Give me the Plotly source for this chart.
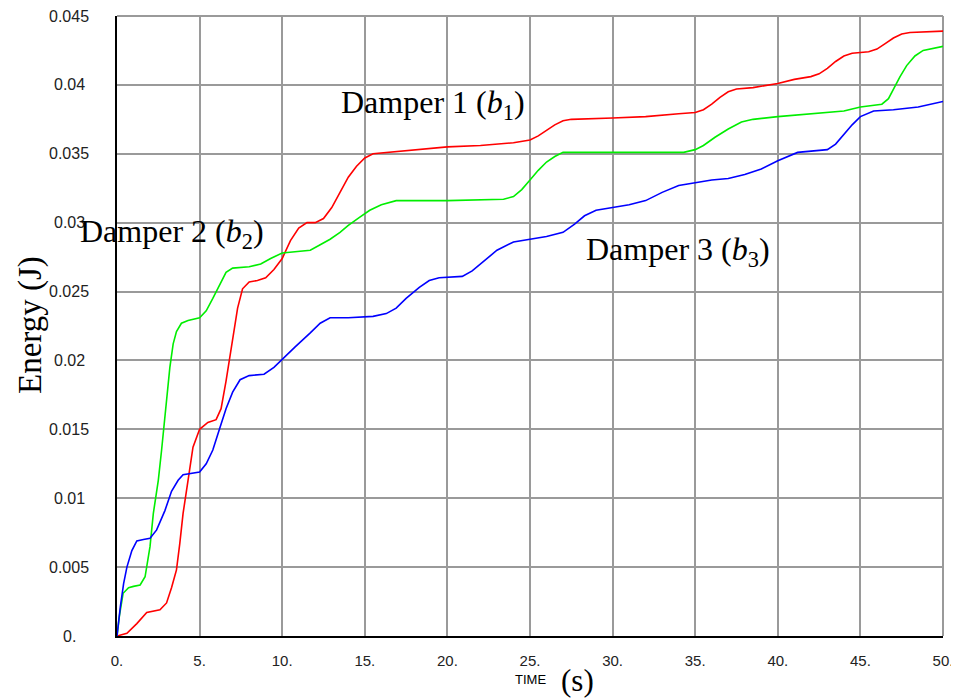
import plotly.graph_objects as go

# ---- data ----
t_red = [0, 0.6, 1.2, 1.8, 2.6, 3.0, 3.3, 3.6, 3.8, 4.0, 4.3, 4.6, 5.0, 5.5, 6.0, 6.3, 6.6, 7.0, 7.3,
         7.6, 8.0, 8.5, 9.0, 9.5, 10.0, 10.5, 11.0, 11.5, 12.0, 12.5, 13.0, 13.5, 14.0, 14.5, 15.0,
         15.5, 16.5, 18.0, 20.0, 22.0, 24.0, 25.0, 25.5, 26.0, 26.5, 27.0, 27.5, 30.0, 32.0, 34.0,
         35.0, 35.5, 36.0, 36.5, 37.0, 37.5, 38.5, 40.0, 41.0, 42.0, 42.5, 43.0, 43.5, 44.0, 44.5,
         45.5, 46.0, 46.5, 47.0, 47.5, 48.0, 50.0]
e_red = [0, 0.0002, 0.0009, 0.0017, 0.0019, 0.0024, 0.0035, 0.0048, 0.0067, 0.0089, 0.0113, 0.0137,
         0.0150, 0.0155, 0.0157, 0.0165, 0.0185, 0.0215, 0.0238, 0.0252, 0.0257, 0.0258, 0.0260,
         0.0266, 0.0274, 0.0287, 0.0296, 0.0300, 0.0300, 0.0303, 0.0311, 0.0322, 0.0333, 0.0341,
         0.0347, 0.0350, 0.0351, 0.0353, 0.0355, 0.0356, 0.0358, 0.0360, 0.0363, 0.0367, 0.0371,
         0.0374, 0.0375, 0.0376, 0.0377, 0.0379, 0.0380, 0.0382, 0.0386, 0.0391, 0.0395, 0.0397,
         0.0398, 0.0401, 0.0404, 0.0406, 0.0408, 0.0412, 0.0417, 0.0421, 0.0423, 0.0424, 0.0426,
         0.0430, 0.0434, 0.0437, 0.0438, 0.0439]

t_green = [0, 0.15, 0.37, 0.7, 1.0, 1.4, 1.7, 2.0, 2.2, 2.5, 2.7, 3.0, 3.2, 3.4, 3.6, 3.9, 4.3, 5.0,
           5.4, 5.8, 6.1, 6.6, 7.0, 8.0, 8.7, 9.3, 10.0, 11.0, 11.7, 12.3, 12.9, 13.5, 14.0, 14.7,
           15.3, 16.0, 16.9, 20.0, 23.4, 24.0, 24.5, 25.0, 25.5, 26.0, 26.5, 27.0, 30.0, 34.3, 35.0,
           35.5, 36.2, 37.0, 37.8, 38.5, 40.0, 42.0, 44.0, 45.0, 46.3, 46.7, 47.0, 47.4, 47.8, 48.3,
           48.8, 50.0]
e_green = [0, 0.0015, 0.0031, 0.0035, 0.0036, 0.0037, 0.0043, 0.0065, 0.0089, 0.0113, 0.0135,
           0.0170, 0.0195, 0.0212, 0.0221, 0.0227, 0.0229, 0.0231, 0.0236, 0.0245, 0.0252, 0.0264,
           0.0267, 0.0268, 0.0270, 0.0274, 0.0278, 0.0279, 0.0280, 0.0284, 0.0288, 0.0293, 0.0298,
           0.0304, 0.0309, 0.0313, 0.0316, 0.0316, 0.0317, 0.0319, 0.0324, 0.0331, 0.0338, 0.0344,
           0.0348, 0.0351, 0.0351, 0.0351, 0.0353, 0.0356, 0.0362, 0.0368, 0.0373, 0.0375, 0.0377,
           0.0379, 0.0381, 0.0384, 0.0386, 0.0390, 0.0397, 0.0406, 0.0414, 0.0421, 0.0425, 0.0428]

t_blue = [0, 0.1, 0.2, 0.4, 0.6, 0.9, 1.2, 1.6, 2.0, 2.4, 2.9, 3.3, 3.7, 4.0, 4.5, 5.0, 5.4, 5.8,
          6.2, 6.6, 7.0, 7.45, 8.0, 8.9, 9.5, 10.0, 10.8, 11.7, 12.3, 12.9, 14.0, 15.5, 16.3, 16.9,
          17.5, 18.3, 18.9, 19.5, 20.9, 21.5, 22.2, 23.0, 24.0, 25.0, 26.0, 27.0, 27.7, 28.3, 29.0,
          30.0, 31.0, 32.0, 33.0, 34.0, 35.0, 36.0, 37.0, 38.0, 39.0, 40.0, 41.2, 43.0, 43.5, 44.0,
          44.5, 45.0, 45.8, 47.0, 48.5, 50.0]
e_blue = [0, 0.0012, 0.0021, 0.0038, 0.0050, 0.0062, 0.0069, 0.0070, 0.0071, 0.0077, 0.0091,
          0.0105, 0.0113, 0.0117, 0.0118, 0.0119, 0.0125, 0.0135, 0.0150, 0.0165, 0.0177, 0.0186,
          0.0189, 0.0190, 0.0195, 0.0201, 0.0210, 0.0220, 0.0227, 0.0231, 0.0231, 0.0232, 0.0234,
          0.0238, 0.0245, 0.0253, 0.0258, 0.0260, 0.0261, 0.0265, 0.0272, 0.0280, 0.0286, 0.0288,
          0.0290, 0.0293, 0.0299, 0.0305, 0.0309, 0.0311, 0.0313, 0.0316, 0.0322, 0.0327, 0.0329,
          0.0331, 0.0332, 0.0335, 0.0339, 0.0345, 0.0351, 0.0353, 0.0357, 0.0364, 0.0371, 0.0377,
          0.0381, 0.0382, 0.0384, 0.0388]

x_ticks = [0, 5, 10, 15, 20, 25, 30, 35, 40, 45, 50]
x_ticktext = ["0.", "5.", "10.", "15.", "20.", "25.", "30.", "35.", "40.", "45.", "50."]
y_ticks = [0, 0.005, 0.01, 0.015, 0.02, 0.025, 0.03, 0.035, 0.04, 0.045]
y_ticktext = ["0.", "0.005", "0.01", "0.015", "0.02", "0.025", "0.03", "0.035", "0.04", "0.045"]

labels = ["Damper 1 (<i>b</i><sub>1</sub>)", "Damper 2 (<i>b</i><sub>2</sub>)", "Damper 3 (<i>b</i><sub>3</sub>)"]
label_x = [19.1, 3.35, 33.95]
label_y = [0.0386, 0.0292, 0.0279]

SERIF = "Liberation Serif, DejaVu Serif, serif"
SANS = "Liberation Sans, Arial, sans-serif"
GRID = "#9a9a9a"

fig = go.Figure()
for t, e, c in [(t_red, e_red, "#ff0000"), (t_green, e_green, "#00ee00"), (t_blue, e_blue, "#0000ff")]:
    fig.add_trace(go.Scatter(x=t, y=e, mode="lines", line=dict(color=c, width=1.6),
                             showlegend=False, hoverinfo="skip"))

# page body adds an 8px offset, so the figure is 8px smaller and shifted
fig.update_layout(
    width=951, height=691,
    margin=dict(l=109, r=16, t=8, b=63, autoexpand=False),
    paper_bgcolor="white", plot_bgcolor="white",
    showlegend=False,
)
fig.update_xaxes(range=[0, 50], tickvals=x_ticks, ticktext=x_ticktext, showgrid=True,
                 gridcolor=GRID, gridwidth=2, zeroline=False, showline=True,
                 linecolor="black", linewidth=2, ticks="", ticklabelstandoff=10,
                 automargin=False,
                 tickfont=dict(family=SANS, size=15, color="#222"))
fig.update_yaxes(range=[0, 0.045], tickvals=y_ticks, showticklabels=False, showgrid=True,
                 gridcolor=GRID, gridwidth=2, zeroline=False, showline=True,
                 linecolor="black", linewidth=2, ticks="", automargin=False)

# gray frame on top and right (grid lines at the range ends)
fig.add_shape(type="line", xref="paper", yref="paper", x0=0, x1=1, y0=1, y1=1,
              line=dict(color=GRID, width=2), layer="below")
fig.add_shape(type="line", xref="paper", yref="paper", x0=1, x1=1, y0=0, y1=1,
              line=dict(color=GRID, width=2), layer="below")

# y tick labels (centered, as in the reference)
for v, txt in zip(y_ticks, y_ticktext):
    fig.add_annotation(x=-0.058, xref="paper", y=v, yref="y", text=txt, showarrow=False,
                       xanchor="center", yanchor="middle",
                       font=dict(family=SANS, size=16, color="#222"))

# axis titles
fig.add_annotation(x=-0.1053, xref="paper", y=0.5016, yref="paper", text="Energy (J)",
                   textangle=-90, showarrow=False, xanchor="center", yanchor="middle",
                   font=dict(family=SERIF, size=33, color="black"))
fig.add_annotation(x=0.5, xref="paper", y=-0.0694, yref="paper", text="TIME",
                   showarrow=False, xanchor="center", yanchor="middle",
                   font=dict(family=SANS, size=13, color="black"))
fig.add_annotation(x=0.558, xref="paper", y=-0.071, yref="paper", text="(s)",
                   showarrow=False, xanchor="center", yanchor="middle",
                   font=dict(family=SERIF, size=31, color="black"))

# curve labels
for txt, lx, ly in zip(labels, label_x, label_y):
    fig.add_annotation(x=lx, y=ly, xref="x", yref="y", text=txt, showarrow=False,
                       xanchor="center", yanchor="middle",
                       font=dict(family=SERIF, size=32, color="black"))

fig.write_html("out.html")
